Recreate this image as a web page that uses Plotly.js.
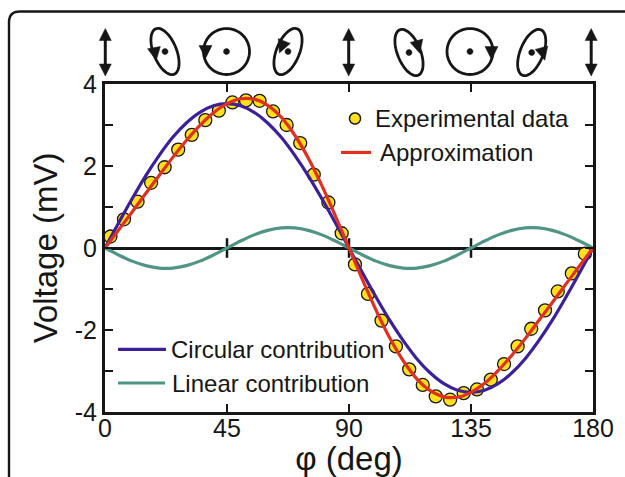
<!DOCTYPE html>
<html>
<head>
<meta charset="utf-8">
<script src="https://cdn.plot.ly/plotly-3.0.1.min.js"></script>
<style>html,body{margin:0;padding:0;background:#fff}#c{width:625px;height:477px}</style>
</head>
<body>
<div id="c"></div>
<script>
// Experimental data
const expPhi = [2,7,12,17,22,27,32,37,42,47,52,57,62,67,72,77,82.4,87.3,92.2,97,102,107.3,112.2,117.2,122,127.3,132.3,137.2,142.3,147.2,152.2,157.2,162.3,167,172.2,177];
const expV = [0.28,0.70,1.13,1.59,1.97,2.40,2.76,3.12,3.35,3.55,3.60,3.59,3.33,3.00,2.56,1.79,1.11,0.36,-0.40,-1.12,-1.77,-2.40,-2.96,-3.34,-3.62,-3.70,-3.54,-3.45,-3.21,-2.83,-2.40,-1.97,-1.52,-1.06,-0.62,-0.14];
// Curves read every 5 degrees
const curvePhi = [0,5,10,15,20,25,30,35,40,45,50,55,60,65,70,75,80,85,90,95,100,105,110,115,120,125,130,135,140,145,150,155,160,165,170,175,180];
const circular = [0,0.61,1.20,1.76,2.26,2.70,3.05,3.31,3.47,3.52,3.47,3.31,3.05,2.70,2.26,1.76,1.20,0.61,0,-0.61,-1.20,-1.76,-2.26,-2.70,-3.05,-3.31,-3.47,-3.52,-3.47,-3.31,-3.05,-2.70,-2.26,-1.76,-1.20,-0.61,0];
const linear = [0,-0.17,-0.32,-0.43,-0.49,-0.49,-0.43,-0.32,-0.17,0,0.17,0.32,0.43,0.49,0.49,0.43,0.32,0.17,0,-0.17,-0.32,-0.43,-0.49,-0.49,-0.43,-0.32,-0.17,0,0.17,0.32,0.43,0.49,0.49,0.43,0.32,0.17,0];
const approximation = [0,0.44,0.88,1.33,1.77,2.21,2.62,2.99,3.30,3.52,3.64,3.63,3.48,3.19,2.75,2.19,1.52,0.78,0,-0.78,-1.52,-2.19,-2.75,-3.19,-3.48,-3.63,-3.64,-3.52,-3.30,-2.99,-2.62,-2.21,-1.77,-1.33,-0.88,-0.44,0];
// Axes
const xTicks = [0,45,90,135,180];
const yTicks = [-4,-3,-2,-1,0,1,2,3,4];
const yLabels = ['-4','','-2','','0','','2','','4'];
const zeroTicks = [45,90,135];
// Legend and title text
const legendExp = 'Experimental data', legendApp = 'Approximation', legendCirc = 'Circular contribution', legendLin = 'Linear contribution';

const INK='#161616', RED='#e0301e', BLUE='#3b209a', TEAL='#4f9484', YEL='#ffe01a';
const W=625,H=477,L=105,R=593,T=83.5,B=411.7;
const px=X=>(X-L)/(R-L), py=Y=>(B-Y)/(B-T);
const P=(X,Y)=>px(X).toFixed(5)+','+py(Y).toFixed(5);
const shapes=[];
const add=(path,o)=>shapes.push(Object.assign({type:'path',xref:'paper',yref:'paper',path:path,line:{color:INK,width:2.4}},o||{}));

// frame
add('M'+P(9,477)+' L'+P(9,22)+' Q'+P(9,11)+' '+P(20,11)+' L'+P(625,11));

function ring(cx,cy,a,b,deg){
  const r=deg*Math.PI/180; let s='';
  for(let i=0;i<72;i++){const t=i/72*2*Math.PI, u=b*Math.cos(t), v=a*Math.sin(t);
    s+=(i?'L':'M')+P(cx+u*Math.cos(r)-v*Math.sin(r), cy+u*Math.sin(r)+v*Math.cos(r))+' ';}
  return s+'Z';
}
function ellipse(cx,cy,a,b,deg){
  add(ring(cx,cy,a,b,deg),{line:{color:INK,width:2.8}});
  add(ring(cx,cy,3,3,0),{fillcolor:INK,line:{color:INK,width:0.5}});
}
function head(cx,cy,deg){ // triangle pointing along deg (0 = down)
  const r=deg*Math.PI/180, pts=[[0,7],[-6.5,-6],[6.5,-6]];
  add('M'+pts.map(p=>P(cx+p[0]*Math.cos(r)-p[1]*Math.sin(r),cy+p[0]*Math.sin(r)+p[1]*Math.cos(r))).join(' L')+' Z',{fillcolor:INK,line:{color:INK,width:0.5}});
}
function dbl(cx){
  add('M'+P(cx,36)+' L'+P(cx,66),{line:{color:INK,width:3}});
  add('M'+P(cx,28)+' L'+P(cx-6,40)+' L'+P(cx+6,40)+' Z',{fillcolor:INK,line:{color:INK,width:0.5}});
  add('M'+P(cx,75.5)+' L'+P(cx-6,63.5)+' L'+P(cx+6,63.5)+' Z',{fillcolor:INK,line:{color:INK,width:0.5}});
}
dbl(105.3); dbl(348.7); dbl(591.2);
ellipse(165,51,24.5,11.5,-22); head(155,53,-10);
ellipse(226.5,51,23,23,0); head(205.5,51,0);
ellipse(288,51,24.5,11.5,22); head(282,46,22);
ellipse(409,52,24.5,11.5,-22); head(418,46,-15);
ellipse(470,51,23,23,0); head(491.5,52,0);
ellipse(531.7,52,24.5,11.5,22); head(543,53,-15);

// legend keys
add('M'+P(341,152)+' L'+P(371,152),{line:{color:RED,width:3.2}});
add('M'+P(118,349)+' L'+P(166,349),{line:{color:BLUE,width:3.2}});
add('M'+P(118,382.7)+' L'+P(165,382.7),{line:{color:TEAL,width:3.2}});
add(ring(355,118,5.5,5.5,0),{fillcolor:YEL,line:{color:INK,width:1.5}});

const note=(text,X,Y)=>({text:text,xref:'paper',yref:'paper',x:px(X),y:py(Y),xanchor:'left',yanchor:'middle',showarrow:false,xshift:-1,font:{family:'Liberation Sans',size:24,color:INK}});

const traces=[
 {x:zeroTicks,y:zeroTicks.map(()=>0),mode:'markers',marker:{symbol:'line-ns',size:14,line:{color:INK,width:2.5}},hoverinfo:'skip'},
 {x:curvePhi,y:linear,mode:'lines',line:{color:TEAL,width:3.2,shape:'spline'}},
 {x:expPhi,y:expV,mode:'markers',marker:{color:YEL,size:13,line:{color:INK,width:1.3}}},
 {x:curvePhi,y:circular,mode:'lines',line:{color:BLUE,width:3.2,shape:'spline'}},
 {x:curvePhi,y:approximation,mode:'lines',line:{color:RED,width:3.2,shape:'spline'}}
];
const layout={
 width:W,height:H,showlegend:false,paper_bgcolor:'#fff',plot_bgcolor:'#fff',
 margin:{l:L,r:W-R,t:T,b:H-B,pad:0},
 font:{family:'Liberation Sans',color:INK,size:24},
 xaxis:{range:[0,180],tickmode:'array',tickvals:xTicks,ticktext:xTicks.map(String),ticks:'inside',ticklen:8,tickwidth:2.6,tickcolor:INK,
   showline:true,linecolor:INK,linewidth:3,mirror:'ticks',showgrid:false,zeroline:false,ticklabelstandoff:-8,
   tickfont:{size:25,family:'Liberation Sans',color:INK},
   title:{text:'φ (deg)',standoff:0,font:{size:33,family:'Liberation Sans',color:INK}}},
 yaxis:{range:[-4,4],tickmode:'array',tickvals:yTicks,ticktext:yLabels,ticks:'inside',ticklen:8,tickwidth:2.6,tickcolor:INK,
   showline:true,linecolor:INK,linewidth:3,mirror:'ticks',showgrid:false,zeroline:true,zerolinecolor:INK,zerolinewidth:3,
   tickfont:{size:25,family:'Liberation Sans',color:INK},
   title:{text:'Voltage (mV)',standoff:8,font:{size:33,family:'Liberation Sans',color:INK}}},
 shapes:shapes,
 annotations:[note(legendExp,374,118),note(legendApp,379,152),note(legendCirc,170,349),note(legendLin,171,382.7)]
};
Plotly.newPlot('c',traces,layout,{displayModeBar:false,staticPlot:true});
</script>
</body>
</html>
